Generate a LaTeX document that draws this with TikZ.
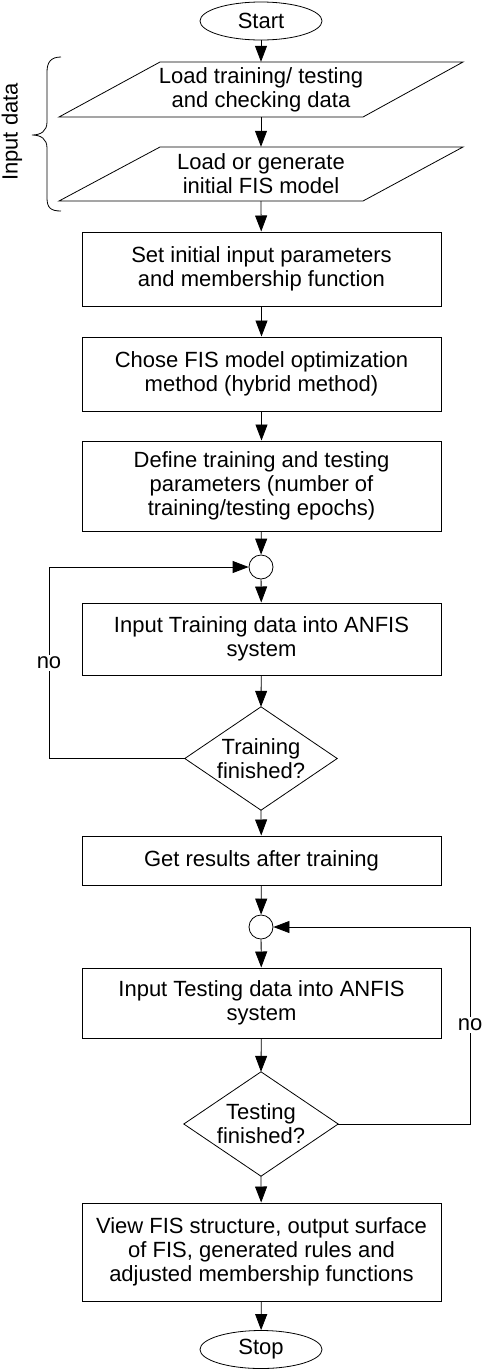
\documentclass[tikz,border=0pt]{standalone}
\usepackage{fontspec}
\setmainfont{Liberation Sans}
\usetikzlibrary{arrows.meta,shapes.geometric}
\begin{document}
\begin{tikzpicture}[x=1pt,y=-1pt,
  every node/.style={font=\fontsize{22}{24}\selectfont, align=center, inner sep=0pt},
  box/.style={draw, line width=1pt, rectangle, minimum width=359pt},
  term/.style={draw, line width=0.8pt, ellipse, minimum width=122pt, minimum height=38pt},
  junc/.style={draw, line width=0.8pt, circle, minimum size=24pt},
  slot/.style={draw=none, rectangle},
  shapeline/.style={line width=0.8pt},
  arr/.style={line width=0.8pt, -{Triangle[length=16pt,width=12pt]}},
  plain/.style={line width=0.8pt},
  lbl/.style={fill=white, inner sep=2pt}
]
\useasboundingbox (0,0) rectangle (483,1369);

% nodes
\node[term] (start) at (261,21) {Start};
\node[slot, minimum width=200pt, minimum height=55pt] (p1) at (261,89.5) {Load training/ testing\\and checking data};
\node[slot, minimum width=200pt, minimum height=54pt] (p2) at (261,174) {Load or generate\\initial FIS model};
\node[box, minimum height=74pt] (b1) at (261.5,269) {Set initial input parameters\\and membership function};
\node[box, minimum height=74pt] (b2) at (261.5,374) {Chose FIS model optimization\\method (hybrid method)};
\node[box, minimum height=90pt] (b3) at (261.5,486) {Define training and testing\\parameters (number of\\training/testing epochs)};
\node[junc] (c1) at (261,567) {};
\node[box, minimum height=72pt] (b4) at (261.5,639) {Input Training data into ANFIS\\system};
\node[slot, minimum width=152pt, minimum height=103pt] (d1) at (261,758.5) {Training\\finished?};
\node[box, minimum height=49pt] (b5) at (261.5,860.5) {Get results after training};
\node[junc] (c2) at (261,927) {};
\node[box, minimum height=70pt] (b6) at (261.5,1003) {Input Testing data into ANFIS\\system};
\node[slot, minimum width=154pt, minimum height=104pt] (d2) at (261,1124) {Testing\\finished?};
\node[box, minimum height=98pt] (b7) at (261.5,1252) {View FIS structure, output surface\\of FIS, generated rules and\\adjusted membership functions};
\node[term] (stop) at (261,1349.5) {Stop};

% input/output parallelograms and decisions
\draw[shapeline] (160,62) -- (463,62) -- (363,117) -- (59,117) -- cycle;
\draw[shapeline] (160,147) -- (463,147) -- (363,201) -- (59,201) -- cycle;
\draw[shapeline] (d1.north) -- (d1.east) -- (d1.south) -- (d1.west) -- cycle;
\draw[shapeline] (d2.north) -- (d2.east) -- (d2.south) -- (d2.west) -- cycle;

% brace and its label
\draw[plain] (61,57) .. controls (51,57) and (47,62) .. (47,72) -- (47,122)
  .. controls (47,131) and (41,135) .. (32,135)
  .. controls (41,135) and (47,139) .. (47,148) -- (47,198)
  .. controls (47,208) and (51,211) .. (61,211);
\node[rotate=90] (inlbl) at (12,132) {Input data};

% main flow
\draw[arr] (start) -- (p1.north);
\draw[arr] (p1.south) -- (p2.north);
\draw[arr] (p2.south) -- (b1);
\draw[arr] (b1) -- (b2);
\draw[arr] (b2) -- (b3);
\draw[arr] (b3) -- (c1);
\draw[arr] (c1) -- (b4);
\draw[arr] (b4) -- (d1.north);
\draw[arr] (d1.south) -- (b5);
\draw[arr] (b5) -- (c2);
\draw[arr] (c2) -- (b6);
\draw[arr] (b6) -- (d2.north);
\draw[arr] (d2.south) -- (b7);
\draw[arr] (b7) -- (stop);

% loops
\coordinate (l1b) at (49,758.5);
\coordinate (l1t) at (49,567);
\draw[plain] (d1.west) -- (l1b) -- (l1t);
\draw[arr] (l1t) -- (c1.west);
\node[lbl] (no1) at (49,663) {no};

\coordinate (l2b) at (470,1124);
\coordinate (l2t) at (470,927);
\draw[plain] (d2.east) -- (l2b) -- (l2t);
\draw[arr] (l2t) -- (c2.east);
\node[lbl] (no2) at (470,1025) {no};
\end{tikzpicture}
\end{document}
